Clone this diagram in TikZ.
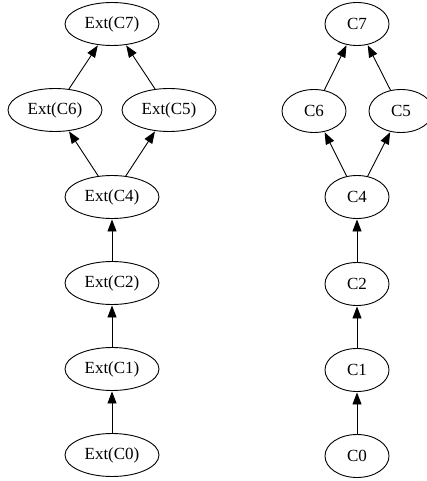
\documentclass[tikz,border=0pt]{standalone}
\usepackage{fontspec}
\setmainfont{Liberation Serif}
\usetikzlibrary{shapes.geometric,arrows.meta}
\begin{document}
\begin{tikzpicture}[x=1pt,y=-1pt,
  vnode/.style={draw,ellipse,line width=0.9pt,minimum height=43pt,inner sep=0pt,
    font=\fontsize{17}{20}\selectfont},
  ext/.style={vnode,minimum width=94pt},
  cn/.style={vnode,minimum width=64pt},
  edge/.style={line width=0.9pt,-{Triangle[length=12pt,width=9pt]},shorten >=0.5pt}]
\useasboundingbox (0,0) rectangle (426,481);
% left column
\node[ext] (e7) at (112,24) {Ext(C7)};
\node[ext] (e6) at (55,110) {Ext(C6)};
\node[ext] (e5) at (169,110) {Ext(C5)};
\node[ext] (e4) at (112,197) {Ext(C4)};
\node[ext] (e2) at (112,283) {Ext(C2)};
\node[ext] (e1) at (112,369) {Ext(C1)};
\node[ext] (e0) at (112,455) {Ext(C0)};
\draw[edge] (e6) -- (e7);
\draw[edge] (e5) -- (e7);
\draw[edge] (e4) -- (e6);
\draw[edge] (e4) -- (e5);
\draw[edge] (e2) -- (e4);
\draw[edge] (e1) -- (e2);
\draw[edge] (e0) -- (e1);
% right column
\node[cn] (c7) at (357,24) {C7};
\node[cn] (c6) at (314,111) {C6};
\node[cn] (c5) at (401,111) {C5};
\node[cn] (c4) at (357,197) {C4};
\node[cn] (c2) at (357,284) {C2};
\node[cn] (c1) at (357,370) {C1};
\node[cn] (c0) at (357,456) {C0};
\draw[edge] (c6) -- (c7);
\draw[edge] (c5) -- (c7);
\draw[edge] (c4) -- (c6);
\draw[edge] (c4) -- (c5);
\draw[edge] (c2) -- (c4);
\draw[edge] (c1) -- (c2);
\draw[edge] (c0) -- (c1);
\end{tikzpicture}
\end{document}
